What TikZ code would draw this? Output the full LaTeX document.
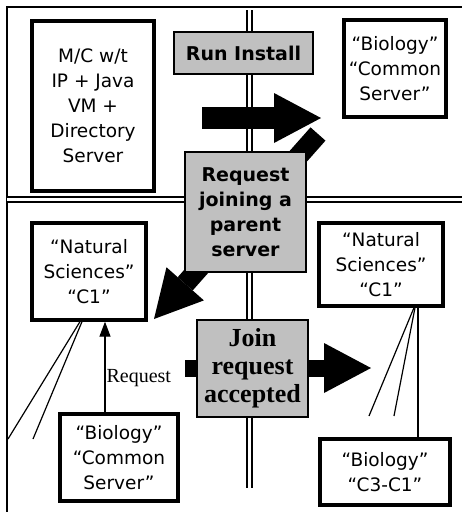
\documentclass[tikz,border=0pt]{standalone}
\usepackage{fontspec}
\setmainfont{DejaVu Sans}
\newfontfamily\serifface{Liberation Serif}
\usetikzlibrary{arrows.meta}
\definecolor{panelgrey}{RGB}{192,192,192}

\begin{document}
\begin{tikzpicture}[x=1pt, y=-1pt,
    every node/.style={font=\fontsize{18.5}{25}\selectfont, inner sep=0pt, align=center},
    hostbox/.style={draw, line width=3.3pt, fill=white},
    stagebox/.style={draw, line width=1.5pt, fill=panelgrey, font=\fontsize{19}{25}\selectfont\bfseries},
    divider/.style={double, double distance=3pt, line width=1.6pt},
    blockarrow/.style={line width=#1, -{Triangle[length=47pt, width=50pt, line width=0pt]}}]
  \useasboundingbox (0,0) rectangle (462,512);
  % Frame and dividers
  \draw[line width=1.8pt] (7,512) -- (7,7) -- (462,7);
  \draw[divider] (7,199.5) -- (462,199.5);
  \draw[divider] (249.5,10) -- (249.5,488);
  % Block arrows (behind the grey stages)
  \draw[blockarrow=22pt] (202,118) -- (321,118);
  \draw[blockarrow=20pt] (318,134) -- (154,319);
  \draw[blockarrow=17pt] (185,368) -- (371,368);
  % Stages
  \node[stagebox, minimum width=139pt, minimum height=42pt] (install) at (243.5,53) {Run Install};
  \node[stagebox, minimum width=121pt, minimum height=120pt] (ask) at (245.5,212) {Request\\joining a\\parent\\server};
  \node[stagebox, minimum width=111pt, minimum height=97pt,
        font=\serifface\fontsize{26}{28}\selectfont\bfseries] (accept) at (252.5,368.5) {Join\\request\\accepted};
  % Hosts
  \node[hostbox, minimum width=122pt, minimum height=170pt] (mc) at (93,106) {M/C w/t\\IP + Java\\VM +\\Directory\\Server};
  \node[hostbox, minimum width=102pt, minimum height=97pt] (bioTop) at (395,68.5) {“Biology”\\“Common\\Server”};
  \node[hostbox, minimum width=114pt, minimum height=97pt] (natL) at (89,271.5) {“Natural\\Sciences”\\“C1”};
  \node[hostbox, minimum width=124pt, minimum height=83pt] (natR) at (381,264.5) {“Natural\\Sciences”\\“C1”};
  \node[hostbox, minimum width=118pt, minimum height=87pt] (bioL) at (119,457.5) {“Biology”\\“Common\\Server”};
  \node[hostbox, minimum width=130pt, minimum height=66pt] (bioR) at (385,472) {“Biology”\\“C3-C1”};
  % Links
  \coordinate (tailA) at (8,439);
  \coordinate (tailB) at (33,439);
  \coordinate (tailC) at (369,416);
  \coordinate (tailD) at (394,416);
  \draw[line width=1.2pt] ([xshift=-9pt]natL.south) -- (tailA);
  \draw[line width=1.2pt] ([xshift=-7pt]natL.south) -- (tailB);
  \draw[line width=1.2pt] ([xshift=33pt]natR.south) -- (tailC);
  \draw[line width=1.2pt] ([xshift=34pt]natR.south) -- (tailD);
  \draw[line width=1.2pt] (natR.south) ++(37,0) coordinate (drop) -- (drop |- bioR.north);
  \draw[line width=1.2pt, -{Triangle[length=15pt, width=11pt]}] (bioL.north) ++(-14,0) coordinate (rq) -- (rq |- natL.south)
    node[pos=0.38, right, inner sep=1pt, font=\serifface\fontsize{20}{22}\selectfont] {Request};
\end{tikzpicture}
\end{document}
